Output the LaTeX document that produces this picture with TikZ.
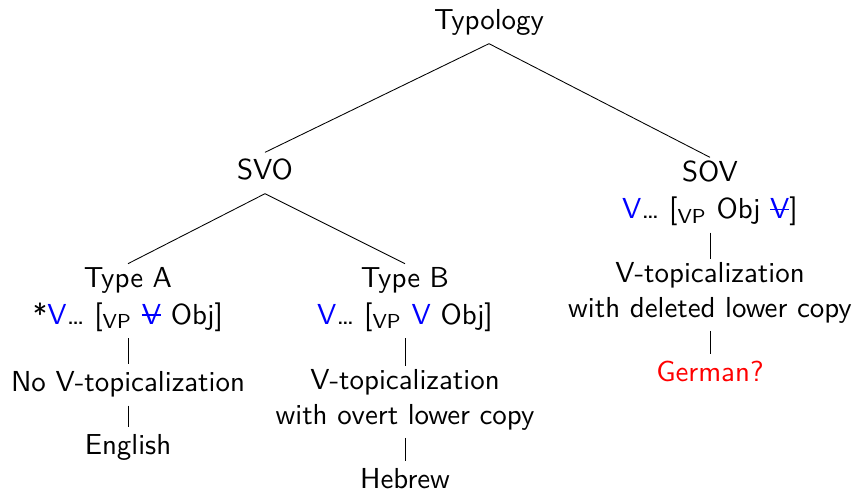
\documentclass[tikz,border=0pt]{standalone}
\usepackage{amsmath}
\usepackage{tikz}
\newcommand{\delV}{\textcolor{blue}{\sbox0{V}\rlap{V}\rule[0.7ex]{\wd0}{0.4pt}}}
\newcommand{\blV}{\textcolor{blue}{V}}
\newcommand{\vp}{\textsubscript{VP}}

\begin{document}
\begin{tikzpicture}[x=0.346pt,y=-0.346pt,font=\sffamily,line width=0.3pt,
  every node/.style={align=center,inner sep=1pt,
    execute at begin node=\strut,execute at end node=\strut}]
        \useasboundingbox (0,0) rectangle (855,493);
        \node (Typ) at (489,23) {Typology};
        \node (SVO) at (265,173) {SVO};
        \node (SOV) at (710,195) {SOV\\[1pt] \blV\ldots{} [\vp{} Obj \delV]};
        \node (TA) at (128,301) {Type A\\[1pt] *\blV\ldots{} [\vp{} \delV{} Obj]};
        \node (TB) at (405,301) {Type B\\[1pt] \blV\ldots{} [\vp{} \blV{} Obj]};
        \node (NoV) at (128,385) {No V-topicalization};
        \node (Eng) at (128,448) {English};
        \node (VtB) at (405,402) {V-topicalization\\ with overt lower copy};
        \node (Heb) at (405,482) {Hebrew};
        \node (VtC) at (710,295) {V-topicalization\\ with deleted lower copy};
        \node[text=red] (Ger) at (710,375) {German?};
        \draw (Typ.south) -- (SVO.north);
        \draw (Typ.south) -- (SOV.north);
        \draw (SVO.south) -- (TA.north);
        \draw (SVO.south) -- (TB.north);
        \draw (TA.south) -- (NoV.north);
        \draw (NoV.south) -- (Eng.north);
        \draw (TB.south) -- (VtB.north);
        \draw (VtB.south) -- (Heb.north);
        \draw (SOV.south) -- (VtC.north);
        \draw (VtC.south) -- (Ger.north);
    \end{tikzpicture}
\end{document}
